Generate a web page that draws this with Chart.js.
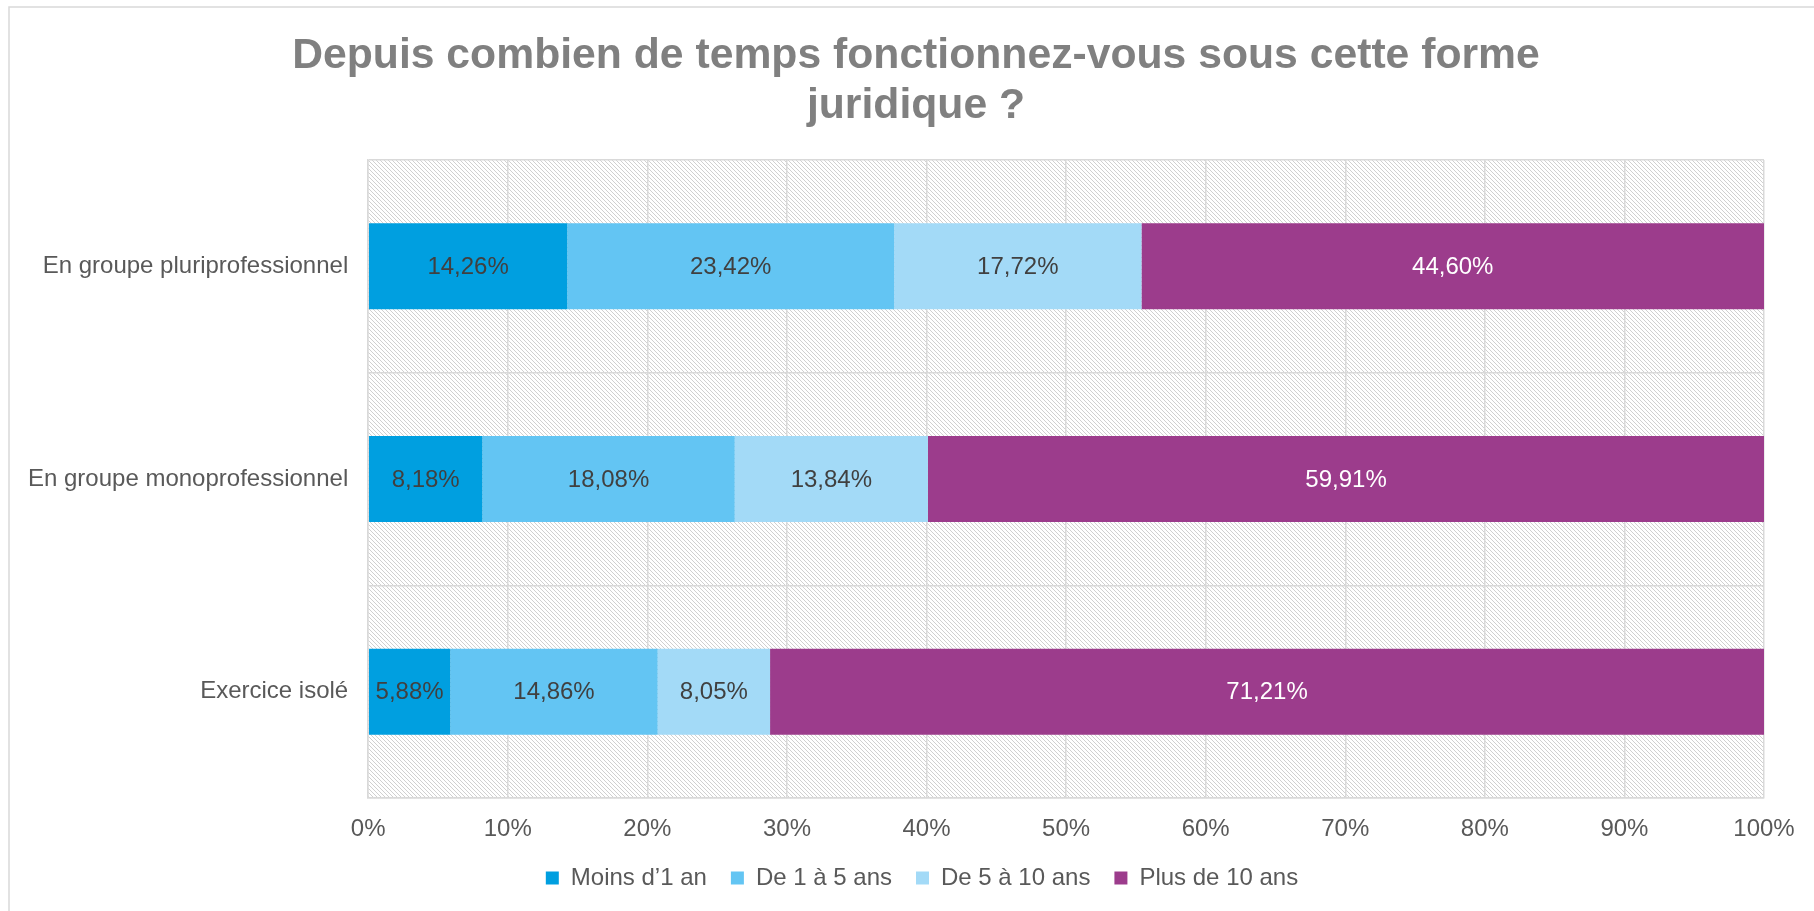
<!DOCTYPE html>
<html>
<head>
<meta charset="utf-8">
<script src="https://cdn.jsdelivr.net/npm/chart.js@4"></script>
<style>
  html, body { margin: 0; padding: 0; background: #fff; }
  #wrap { position: relative; width: 1814px; height: 911px; }
</style>
</head>
<body>
<div id="wrap"><canvas id="chart" width="1814" height="911"></canvas></div>
<script>
// categories, top to bottom
const categories = ['En groupe pluriprofessionnel', 'En groupe monoprofessionnel', 'Exercice isolé'];

// series values (%)
const moinsUnAn = [14.26, 8.18, 5.88];
const deUnACinq = [23.42, 18.08, 14.86];
const deCinqADix = [17.72, 13.84, 8.05];
const plusDeDix = [44.60, 59.91, 71.21];

const seriesNames = ['Moins d\u20191 an', 'De 1 à 5 ans', 'De 5 à 10 ans', 'Plus de 10 ans'];
const seriesColors = ['#009FE0', '#63C5F3', '#A3DAF7', '#9C3C8C'];
const labelColors = ['#404040', '#404040', '#404040', '#ffffff'];

const xTicks = [0, 10, 20, 30, 40, 50, 60, 70, 80, 90, 100];

const FONT = '"Liberation Sans", Arial, sans-serif';

// hatched plot background (light downward diagonal)
function makePattern() {
    const c = document.createElement('canvas');
    c.width = 4; c.height = 4;
    const cx = c.getContext('2d');
    cx.fillStyle = '#ffffff';
    cx.fillRect(0, 0, 4, 4);
    cx.fillStyle = '#d0d0d0';
    for (let i = 0; i < 4; i++) {
        cx.fillRect(i, i, 1, 1);
    }
    return cx.createPattern(c, 'repeat');
}

const layoutTweaks = {
    id: 'layoutTweaks',
    beforeLayout(chart) {
        // legend padding is used both between items and above them;
        // keep the wide horizontal gap but take less vertical room
        const leg = chart.legend;
        if (leg && !leg._tight) {
            const fit = leg.fit;
            leg.fit = function () { fit.call(this); this.height -= 19; };
            leg._tight = true;
        }
    },
    afterLayout(chart) {
        // title and legend in the original sit a bit right of the canvas centre
        chart.titleBlock.left += 60;
        const leg = chart.legend;
        leg.top -= 19;
        leg.height += 19;
        leg.left += 36;
        leg.right += 36;
    }
};

const backgroundPlugin = {
    id: 'hatchBackground',
    beforeDraw(chart) {
        const ctx = chart.ctx;
        const a = chart.chartArea;
        ctx.save();
        ctx.fillStyle = '#ffffff';
        ctx.fillRect(0, 0, chart.width, chart.height);
        // outer frame
        ctx.strokeStyle = '#d9d9d9';
        ctx.lineWidth = 1.5;
        ctx.strokeRect(9, 7, chart.width + 20, chart.height + 20);
        ctx.fillStyle = makePattern();
        ctx.fillRect(a.left, a.top, a.right - a.left, a.bottom - a.top);
        ctx.restore();
    }
};

const valueLabels = {
    id: 'valueLabels',
    afterDatasetsDraw(chart) {
        const ctx = chart.ctx;
        ctx.save();
        ctx.font = '24px ' + FONT;
        ctx.textAlign = 'center';
        ctx.textBaseline = 'middle';
        chart.data.datasets.forEach((ds, i) => {
            const meta = chart.getDatasetMeta(i);
            meta.data.forEach((bar, j) => {
                const v = ds.data[j];
                const txt = v.toFixed(2).replace('.', ',') + '%';
                ctx.fillStyle = labelColors[i];
                ctx.fillText(txt, (bar.x + bar.base) / 2, bar.y + 1);
            });
        });
        ctx.restore();
    }
};

const allSeries = [moinsUnAn, deUnACinq, deCinqADix, plusDeDix];

new Chart(document.getElementById('chart'), {
    type: 'bar',
    data: {
        labels: categories,
        datasets: allSeries.map((d, i) => ({
            label: seriesNames[i],
            data: d,
            backgroundColor: seriesColors[i],
            borderWidth: 0,
            categoryPercentage: 1,
            barPercentage: 0.404
        }))
    },
    options: {
        indexAxis: 'y',
        responsive: false,
        animation: false,
        layout: { padding: { top: 31, left: 8, right: 50, bottom: 11 } },
        scales: {
            x: {
                stacked: true,
                min: 0,
                max: 100,
                afterBuildTicks: (axis) => { axis.ticks = xTicks.map(v => ({ value: v })); },
                grid: { color: '#d9d9d9', lineWidth: 1.5, drawTicks: false },
                border: { color: '#d9d9d9', width: 1.5 },
                ticks: {
                    padding: 17,
                    color: '#595959',
                    font: { family: FONT, size: 24 },
                    callback: (v) => v + '%'
                }
            },
            y: {
                stacked: true,
                grid: { color: '#d9d9d9', lineWidth: 1.5, drawTicks: false },
                border: { color: '#d9d9d9', width: 1.5 },
                ticks: {
                    padding: 20,
                    color: '#595959',
                    font: { family: FONT, size: 24 }
                }
            }
        },
        plugins: {
            title: {
                display: true,
                text: ['Depuis combien de temps fonctionnez-vous sous cette forme', 'juridique ?'],
                color: '#808080',
                font: { family: FONT, size: 42.7, weight: 'bold', lineHeight: 1.17 },
                padding: { top: 0, bottom: 29 }
            },
            legend: {
                position: 'bottom',
                labels: {
                    color: '#595959',
                    font: { family: FONT, size: 24 },
                    boxWidth: 13,
                    boxHeight: 13,
                    padding: 24
                }
            },
            tooltip: { enabled: false }
        }
    },
    plugins: [layoutTweaks, backgroundPlugin, valueLabels]
});
</script>
</body>
</html>
